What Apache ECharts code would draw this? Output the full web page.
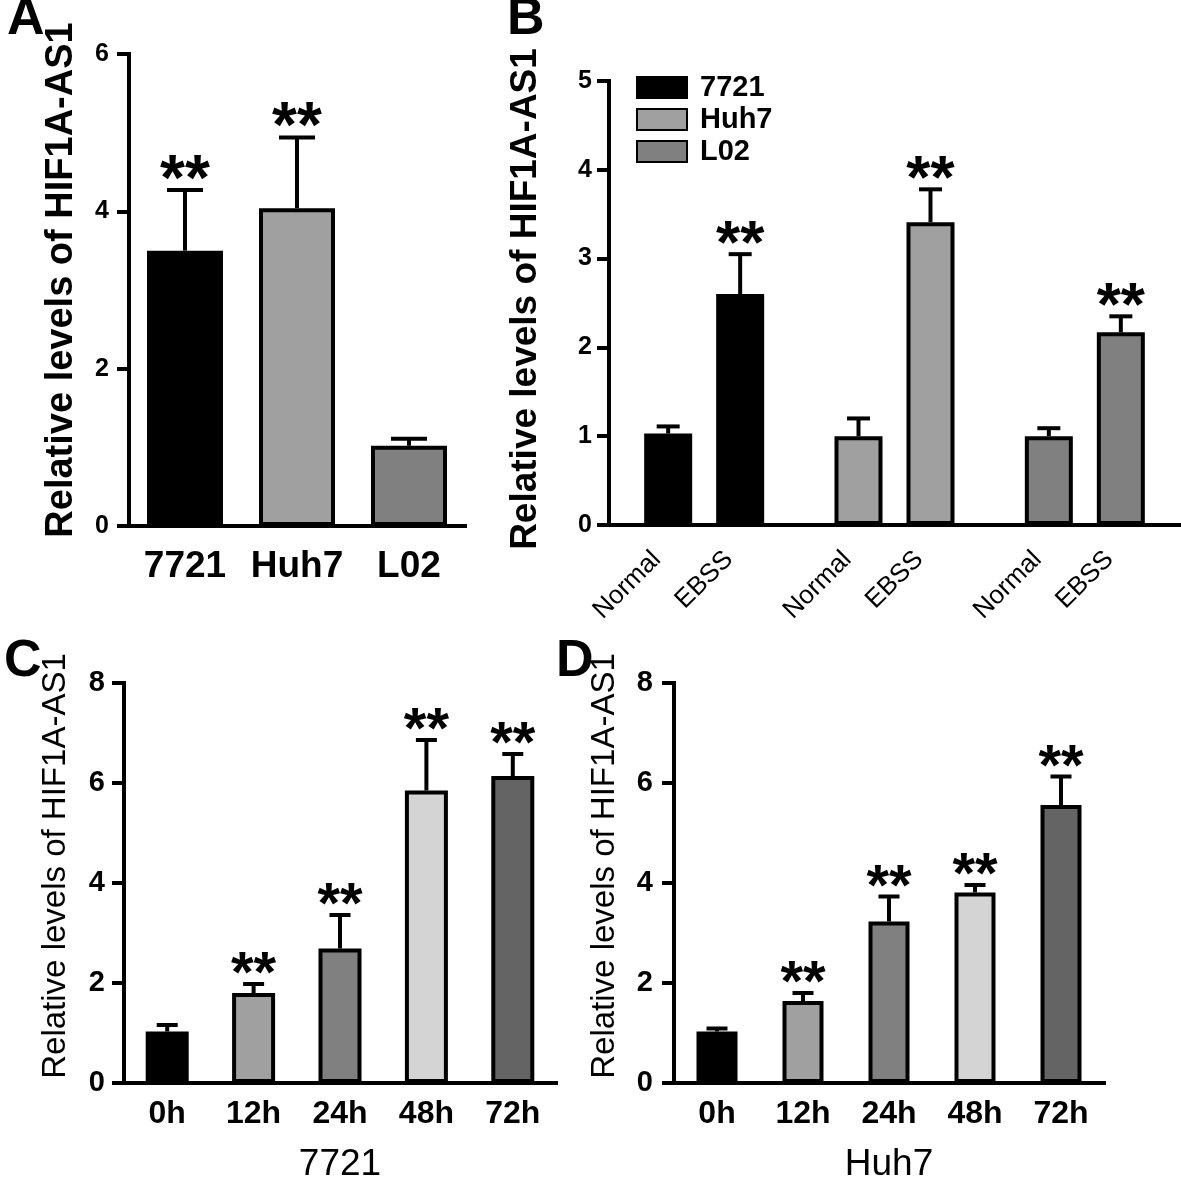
<!DOCTYPE html>
<html><head><meta charset="utf-8">
<script src="https://cdn.jsdelivr.net/npm/echarts@6/dist/echarts.min.js"></script>
<style>html,body{margin:0;padding:0;background:#fff}#c{width:1181px;height:1187px}</style>
</head><body><div id="c"></div>
<script>
// ---------------- data ----------------
const Y_NAME = 'Relative levels of HIF1A-AS1';

const A_categories = ['7721', 'Huh7', 'L02'];
const A_means = [3.50, 4.04, 1.02];
const A_sd = [0.77, 0.90, 0.09];
const A_sig = ['**', '**', ''];

const B_groups = ['7721', 'Huh7', 'L02'];
const B_conditions = ['Normal', 'EBSS'];
const B_normal_means = [1.03, 1.00, 1.00];
const B_normal_sd = [0.08, 0.20, 0.09];
const B_normal_sig = ['', '', ''];
const B_ebss_means = [2.60, 3.41, 2.17];
const B_ebss_sd = [0.45, 0.37, 0.18];
const B_ebss_sig = ['**', '**', '**'];

const C_categories = ['0h', '12h', '24h', '48h', '72h'];
const C_means = [1.03, 1.80, 2.69, 5.85, 6.14];
const C_sd = [0.13, 0.18, 0.67, 1.01, 0.44];
const C_sig = ['', '**', '**', '**', '**'];
const C_title = '7721';

const D_categories = ['0h', '12h', '24h', '48h', '72h'];
const D_means = [1.03, 1.64, 3.23, 3.81, 5.56];
const D_sd = [0.06, 0.16, 0.50, 0.15, 0.57];
const D_sig = ['', '**', '**', '**', '**'];
const D_title = 'Huh7';

const A_yTicks = [0, 2, 4, 6];
const B_yTicks = [0, 1, 2, 3, 4, 5];
const CD_yTicks = [0, 2, 4, 6, 8];

// ---------------- styles ----------------
const FONT = '"Liberation Sans", Arial, Helvetica, sans-serif';
const cellColors = { '7721': '#000000', 'Huh7': '#a0a0a0', 'L02': '#808080' };
const timeColors = ['#000000', '#a0a0a0', '#808080', '#d4d4d4', '#646464'];
const BLACK = '#000';

function errRender(sigArr, capW, offsetPx, fs, starGap) {
  return function (params, api) {
    const x = api.value(0), m = api.value(1), s = api.value(2);
    const p0 = api.coord([x, m]);
    const p1 = api.coord([x, m + s]);
    const cx = p0[0] + offsetPx;
    const children = [
      { type: 'line', shape: { x1: cx, y1: p0[1], x2: cx, y2: p1[1] }, style: { stroke: BLACK, lineWidth: 4 } },
      { type: 'line', shape: { x1: cx - capW / 2, y1: p1[1], x2: cx + capW / 2, y2: p1[1] }, style: { stroke: BLACK, lineWidth: 4 } }
    ];
    const sig = sigArr[params.dataIndex];
    if (sig) {
      children.push({ type: 'text', x: cx, y: p1[1] - starGap,
        style: { text: sig, fill: BLACK, fontSize: fs, fontWeight: 'bold', fontFamily: FONT, align: 'center', verticalAlign: 'middle' } });
    }
    return { type: 'group', children: children };
  };
}

function yAxisDef(gridIndex, ticks, labelFs, labelMargin, nameFs, nameWeight, nameGap, namePad) {
  return {
    type: 'value', gridIndex: gridIndex,
    min: ticks[0], max: ticks[ticks.length - 1], interval: ticks[1] - ticks[0],
    axisLine: { show: true, lineStyle: { color: BLACK, width: 4, cap: 'square' } },
    axisTick: { show: true, length: 12, lineStyle: { color: BLACK, width: 4 } },
    splitLine: { show: false },
    axisLabel: { color: BLACK, fontSize: labelFs, fontWeight: 'bold', fontFamily: FONT, margin: labelMargin },
    name: Y_NAME, nameLocation: 'middle', nameGap: nameGap,
    nameTextStyle: { color: BLACK, fontSize: nameFs, fontWeight: nameWeight, fontFamily: FONT,
      padding: [0, 0, 0, namePad] }
  };
}

function catAxis(gridIndex, data, showLabel, labelFs, margin, name, nameFs, nameGap) {
  const ax = {
    type: 'category', gridIndex: gridIndex, data: data,
    axisLine: { show: true, lineStyle: { color: BLACK, width: 4, cap: 'square' } },
    axisTick: { show: false },
    axisLabel: { show: showLabel, color: BLACK, fontSize: labelFs, fontWeight: 'bold', fontFamily: FONT, margin: margin, interval: 0 }
  };
  if (name) {
    ax.name = name; ax.nameLocation = 'middle'; ax.nameGap = nameGap;
    ax.nameTextStyle = { color: BLACK, fontSize: nameFs, fontWeight: 'normal', fontFamily: FONT };
  }
  return ax;
}

function coloredData(vals, colors) {
  return vals.map((v, i) => ({ value: v, itemStyle: { color: colors[i] } }));
}
function errData(means, sds) {
  return means.map((m, i) => [i, m, sds[i]]);
}

const letterStyle = { fontSize: 52, fontWeight: 'bold', fontFamily: FONT, color: BLACK };
const bLabel = { show: true, position: 'bottom', formatter: '{a}', rotate: 45, align: 'right', verticalAlign: 'middle',
  distance: 22, offset: [-14, -2], color: BLACK, fontSize: 26, fontFamily: FONT };

const option = {
  backgroundColor: '#fff',
  animation: false,
  title: [
    { text: 'A', left: 7, top: -6, textStyle: letterStyle, padding: 0 },
    { text: 'B', left: 507, top: -6, textStyle: letterStyle, padding: 0 },
    { text: 'C', left: 4, top: 636, textStyle: letterStyle, padding: 0 },
    { text: 'D', left: 556, top: 636, textStyle: letterStyle, padding: 0 }
  ],
  legend: {
    data: B_groups, orient: 'vertical', left: 636, top: 73, padding: 0,
    itemWidth: 50, itemHeight: 21, itemGap: 3, icon: 'rect', selectedMode: false,
    textStyle: { fontSize: 29, fontWeight: 'bold', fontFamily: FONT, color: BLACK, padding: [0, 0, 0, 8] }
  },
  grid: [
    { left: 129, top: 54, width: 336, height: 472, outerBoundsMode: 'none' },
    { left: 609, top: 81, width: 571, height: 444, outerBoundsMode: 'none' },
    { left: 124, top: 683, width: 432, height: 400, outerBoundsMode: 'none' },
    { left: 674, top: 683, width: 430, height: 400, outerBoundsMode: 'none' },
    { left: 0, top: 0, width: 1, height: 1, show: false, outerBoundsMode: 'none' }
  ],
  xAxis: [
    catAxis(0, A_categories, true, 37, 22),
    catAxis(1, B_groups, false, 20, 10),
    catAxis(2, C_categories, true, 32, 15, C_title, 37, 63),
    catAxis(3, D_categories, true, 32, 15, D_title, 37, 63),
    { type: 'category', gridIndex: 4, show: false, data: ['x'] }
  ],
  yAxis: [
    yAxisDef(0, A_yTicks, 25, 20, 38, 'bold', 48, 20),
    yAxisDef(1, B_yTicks, 25, 17, 37, 'bold', 65, 8),
    yAxisDef(2, CD_yTicks, 29, 19, 33, 'normal', 52, 34),
    yAxisDef(3, CD_yTicks, 29, 21, 33, 'normal', 53, 34),
    { type: 'value', gridIndex: 4, show: false }
  ],
  series: [
    // Panel A
    { type: 'bar', xAxisIndex: 0, yAxisIndex: 0, barWidth: 76,
      data: coloredData(A_means, A_categories.map(c => cellColors[c])),
      itemStyle: { borderColor: BLACK, borderWidth: 4 } },
    { type: 'custom', xAxisIndex: 0, yAxisIndex: 0, z: 5,
      renderItem: errRender(A_sig, 36, 0, 64, 8), data: errData(A_means, A_sd) },

    // Panel B
    { type: 'bar', name: B_conditions[0], xAxisIndex: 1, yAxisIndex: 1, barWidth: 48, barGap: '50%',
      data: coloredData(B_normal_means, B_groups.map(g => cellColors[g])),
      itemStyle: { borderColor: BLACK, borderWidth: 4 }, label: bLabel },
    { type: 'bar', name: B_conditions[1], xAxisIndex: 1, yAxisIndex: 1, barWidth: 48, barGap: '50%',
      data: coloredData(B_ebss_means, B_groups.map(g => cellColors[g])),
      itemStyle: { borderColor: BLACK, borderWidth: 4 }, label: bLabel },
    { type: 'custom', xAxisIndex: 1, yAxisIndex: 1, z: 5,
      renderItem: errRender(B_normal_sig, 23, -36, 62, 8), data: errData(B_normal_means, B_normal_sd) },
    { type: 'custom', xAxisIndex: 1, yAxisIndex: 1, z: 5,
      renderItem: errRender(B_ebss_sig, 23, 36, 62, 8), data: errData(B_ebss_means, B_ebss_sd) },

    // Legend entries for panel B (cell lines)
    { type: 'bar', name: B_groups[0], xAxisIndex: 4, yAxisIndex: 4, data: [],
      itemStyle: { color: cellColors[B_groups[0]], borderColor: BLACK, borderWidth: 4 } },
    { type: 'bar', name: B_groups[1], xAxisIndex: 4, yAxisIndex: 4, data: [],
      itemStyle: { color: cellColors[B_groups[1]], borderColor: BLACK, borderWidth: 4 } },
    { type: 'bar', name: B_groups[2], xAxisIndex: 4, yAxisIndex: 4, data: [],
      itemStyle: { color: cellColors[B_groups[2]], borderColor: BLACK, borderWidth: 4 } },

    // Panel C
    { type: 'bar', xAxisIndex: 2, yAxisIndex: 2, barWidth: 43,
      data: coloredData(C_means, timeColors),
      itemStyle: { borderColor: BLACK, borderWidth: 4 } },
    { type: 'custom', xAxisIndex: 2, yAxisIndex: 2, z: 5,
      renderItem: errRender(C_sig, 21, 0, 58, 8), data: errData(C_means, C_sd) },

    // Panel D
    { type: 'bar', xAxisIndex: 3, yAxisIndex: 3, barWidth: 41,
      data: coloredData(D_means, timeColors),
      itemStyle: { borderColor: BLACK, borderWidth: 4 } },
    { type: 'custom', xAxisIndex: 3, yAxisIndex: 3, z: 5,
      renderItem: errRender(D_sig, 21, 0, 58, 8), data: errData(D_means, D_sd) }
  ]
};

const chart = echarts.init(document.getElementById('c'), null, { renderer: 'canvas' });
chart.setOption(option);
</script>
</body></html>
